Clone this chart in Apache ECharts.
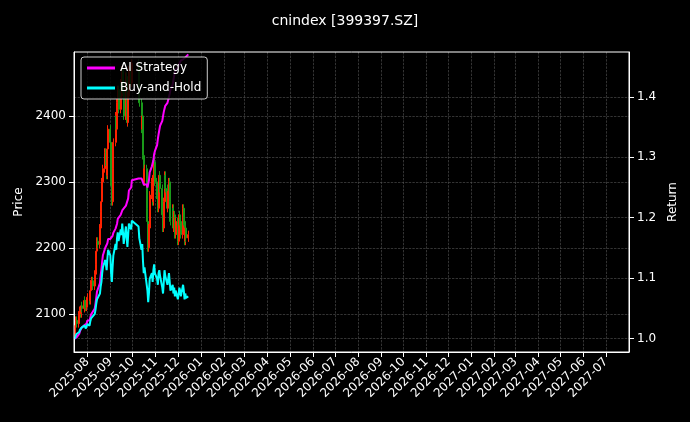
<!DOCTYPE html>
<html><head><meta charset="utf-8">
<script src="https://cdn.jsdelivr.net/npm/echarts@6/dist/echarts.min.js"></script>
<style>html,body{margin:0;background:#000}#c{width:690px;height:422px}</style>
</head><body><div id="c"></div>
<script>
const title = 'cnindex [399397.SZ]';
const startDate = '2025-07-15', endDate = '2025-12-15';
const holidays = ['2025-10-01','2025-10-02','2025-10-03','2025-10-06','2025-10-07','2025-10-08'];
const closes = [
2075,2082,2090,2085,2098,2105,2100,2112,2108,2120,2115,2110,2118,
2125,2120,2135,2145,2150,2142,2160,2175,2195,2210,2205,2230,2255,2270,2300,2320,2345,2330,2310,2350,2380,
2360,2300,2270,2320,2360,2400,2380,2420,2440,2410,2450,2430,2470,2440,2400,2460,2420,2390,2430,2470,2450,2480,
2460,2420,2380,2400,2340,2300,2320,2260,2240,2200,2230,2280,2300,2270,2310,2330,2300,
2280,2260,2300,2310,2290,2250,2230,2270,2310,2290,2260,2280,2300,2270,2240,2260,2230,2250,2220,2240,
2210,2230,2250,2240,2220,2260,2240,2210,2230,2215,2220];
const strategy = [
1.000,1.000,1.003,1.003,1.008,1.012,1.012,1.018,1.018,1.022,1.022,1.022,1.025,
1.030,1.030,1.035,1.040,1.042,1.042,1.050,1.058,1.068,1.078,1.078,1.092,1.105,1.115,1.128,1.138,1.150,1.150,1.150,1.158,1.165,
1.165,1.165,1.165,1.170,1.175,1.182,1.182,1.190,1.198,1.198,1.205,1.205,1.212,1.212,1.212,1.220,1.220,1.220,1.232,1.245,1.250,1.262,
1.265,1.265,1.265,1.265,1.265,1.255,1.255,1.255,1.250,1.250,1.262,1.275,1.285,1.285,1.295,1.305,1.310,
1.320,1.330,1.338,1.345,1.352,1.360,1.368,1.375,1.380,1.385,1.390,1.395,1.400,1.405,1.412,1.420,1.428,1.435,1.440,1.445,
1.448,1.450,1.455,1.458,1.460,1.462,1.465,1.462,1.465,1.468,1.470];
const priceTicks = [2100,2200,2300,2400];
const returnTicks = [1.0,1.1,1.2,1.3,1.4];

const dates = [];
for (let d = new Date(startDate+'T00:00:00Z'); d <= new Date(endDate+'T00:00:00Z'); d.setUTCDate(d.getUTCDate()+1)) {
  const s = d.toISOString().slice(0,10), w = d.getUTCDay();
  if (w===0||w===6||holidays.includes(s)) continue;
  dates.push(d.getTime());
}
const n = Math.min(dates.length, closes.length);
const candles = [], bh = [], st = [];
for (let i=0;i<n;i++){
  const o = i? closes[i-1] : closes[0]-5, c = closes[i];
  candles.push([dates[i], o, c, Math.min(o,c)-6, Math.max(o,c)+6]);
  bh.push([dates[i], c/closes[0]]);
  st.push([dates[i], strategy[i]]);
}
const monthTicks = [];
for (let y=2025,m=8; y<2027||(y===2027&&m<=7); ){ monthTicks.push(Date.UTC(y,m-1,1)); m++; if(m>12){m=1;y++;} }

const grid = {type:'dashed', color:'#555', width:0.6};
const txt = {color:'#fff', fontSize:12, fontFamily:'DejaVu Sans'};
const chart = echarts.init(document.getElementById('c'));
chart.setOption({
  backgroundColor:'#000',
  animation:false,
  title:{text:title, left:'center', top:9, textStyle:{color:'#fff', fontSize:14, fontWeight:'normal', fontFamily:'DejaVu Sans'}},
  grid:{left:74, right:61, top:52, bottom:70},
  legend:{orient:'vertical', left:81, top:57, padding:[5,6], itemGap:8, backgroundColor:'rgba(0,0,0,0.85)', borderColor:'#ccc', borderWidth:1, borderRadius:3,
    itemWidth:28, itemHeight:3, icon:'rect', textStyle:txt, data:['AI Strategy','Buy-and-Hold']},
  xAxis:{type:'value', min:Date.UTC(2025,6,14), max:Date.UTC(2027,7,1),
    axisLine:{show:true, lineStyle:{color:'#fff'}}, axisTick:{show:true, customValues:monthTicks, lineStyle:{color:'#fff'}},
    axisLabel:{...txt, rotate:45, customValues:monthTicks, formatter:v=>{const d=new Date(v);return d.getUTCFullYear()+'-'+String(d.getUTCMonth()+1).padStart(2,'0');}},
    splitLine:{show:true, lineStyle:grid}},
  yAxis:[
    {type:'value', min:2042, max:2497, name:'Price', nameLocation:'middle', nameGap:48, nameTextStyle:txt,
     axisLine:{show:true, lineStyle:{color:'#fff'}}, axisTick:{show:true, customValues:priceTicks},
     axisLabel:{...txt, customValues:priceTicks, formatter:v=>String(v)}, splitLine:{show:true, lineStyle:grid}},
    {type:'value', min:0.978, max:1.474, name:'Return', nameLocation:'middle', nameGap:38, nameTextStyle:txt,
     axisLine:{show:true, lineStyle:{color:'#fff'}}, axisTick:{show:true, customValues:returnTicks},
     axisLabel:{...txt, customValues:returnTicks, formatter:v=>v.toFixed(1)}, splitLine:{show:true, lineStyle:grid}}
  ],
  graphic:[{type:'rect', shape:{x:74,y:52,width:555,height:300}, style:{fill:'none', stroke:'#fff', lineWidth:1}, silent:true, z:100}],
  series:[
    {type:'candlestick', name:'Price', yAxisIndex:0, data:candles, barMaxWidth:1.5,
     itemStyle:{color:'#ff2200', color0:'#1a9a1a', borderColor:'#ff2200', borderColor0:'#1a9a1a', borderWidth:1}},
    {type:'line', name:'AI Strategy', yAxisIndex:1, data:st, showSymbol:false, lineStyle:{color:'#ff00ff', width:2}, itemStyle:{color:'#ff00ff'}},
    {type:'line', name:'Buy-and-Hold', yAxisIndex:1, data:bh, showSymbol:false, lineStyle:{color:'#00ffff', width:2}, itemStyle:{color:'#00ffff'}}
  ]
});
</script></body></html>
